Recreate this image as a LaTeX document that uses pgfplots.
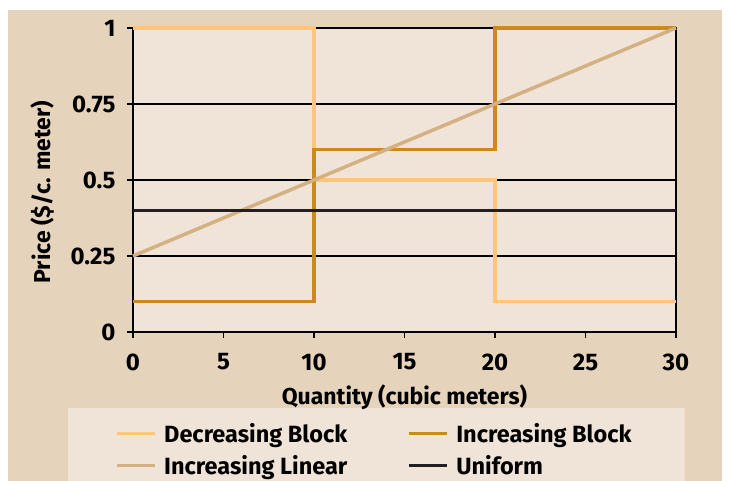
\documentclass[border=0pt]{standalone}
\usepackage{pgfplots}
\pgfplotsset{compat=1.18}
\usepackage{fontspec}
\setmainfont{Fira Sans}
\definecolor{outerbg}{HTML}{E5D3BB}
\definecolor{innerbg}{HTML}{F0E3D7}
\definecolor{decb}{HTML}{FFC57A}
\definecolor{incb}{HTML}{CC8A1E}
\definecolor{incl}{HTML}{D4B183}
\definecolor{unif}{HTML}{231F20}
\begin{document}
\begin{tikzpicture}[x=1pt,y=1pt]
\fill[white] (0,0) rectangle (731,481);
\fill[outerbg] (8,0) rectangle (722,471);
\fill[innerbg] (68,0) rectangle (685,73);
\begin{axis}[
 at={(133pt,149pt)}, anchor=south west,
 scale only axis, width=543pt, height=304pt,
 xmin=0, xmax=30, ymin=0, ymax=1,
 xtick={0,5,10,15,20,25,30}, xticklabels={0,5,10,15,20,25,30},
 ytick={0,0.25,0.5,0.75,1}, yticklabels={0,0.25,0.5,0.75,1},
 xtick pos=left, ytick pos=left, tick align=outside,
 major tick length=6pt,
 axis line style={black, line width=2pt},
 every tick/.style={black, line width=1.5pt},
 ymajorgrids, grid style={black, line width=1.5pt},
 axis background/.style={fill=innerbg},
 tick label style={font=\bfseries\fontsize{24}{24}\selectfont},
 xticklabel style={yshift=-12pt},
 yticklabel style={xshift=-8pt},
 xlabel={Quantity (cubic meters)},
 ylabel={Price (\$/c. meter)},
 label style={font=\bfseries\fontsize{23}{23}\selectfont},
 xlabel style={at={(axis description cs:0.5,-0.214)}, anchor=center},
 ylabel style={at={(axis description cs:-0.166,0.46)}, anchor=center},
 clip=false,
 legend columns=2,
 legend cell align=left,
 legend image code/.code={\draw[#1] (0pt,0pt) -- (38pt,0pt);},
 legend style={at={(axis description cs:-0.0331,-0.293)}, anchor=north west,
   draw=none, fill=none, inner sep=0pt,
   font=\bfseries\fontsize{23.5}{23.5}\selectfont, row sep=7.5pt,
   /tikz/every odd column/.append style={column sep=5.5pt},
   /tikz/every even column/.append style={column sep=58pt}},
]
\addplot[decb, line width=3.5pt] coordinates {(0,1) (10,1) (10,0.5) (20,0.5) (20,0.1) (30,0.1)};
\addlegendentry{Decreasing Block}
\addplot[incb, line width=3.5pt] coordinates {(0,0.1) (10,0.1) (10,0.6) (20,0.6) (20,1) (30,1)};
\addlegendentry{Increasing Block}
\addplot[incl, line width=3.5pt] coordinates {(0,0.25) (30,1)};
\addlegendentry{Increasing Linear}
\addplot[unif, line width=2.5pt] coordinates {(0,0.4) (30,0.4)};
\addlegendentry{Uniform}
\end{axis}
\pgfresetboundingbox
\path (0,0) rectangle (731,481);
\end{tikzpicture}
\end{document}
